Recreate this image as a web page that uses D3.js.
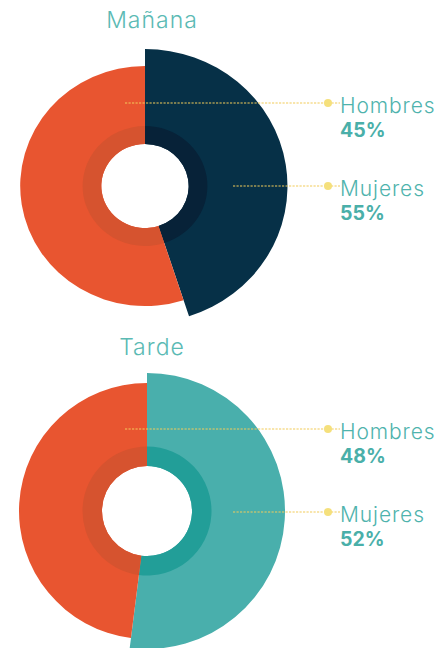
<!DOCTYPE html>
<html>
<head>
<meta charset="utf-8">
<script src="https://cdn.jsdelivr.net/npm/d3@7"></script>
<style>
  body { margin: 0; background: #fff; }
  text { font-family: Inter, "Open Sans", sans-serif; }
</style>
</head>
<body>
<div id="chart"></div>
<script>
// data
const titles = ['Mañana', 'Tarde'];
const categories = ['Hombres', 'Mujeres'];
const manana = [45, 55];
const tarde = [48, 52];
// which slice is drawn first (clockwise from 12 o'clock)
const mananaOrder = ['Hombres', 'Mujeres'];
const tardeOrder = ['Mujeres', 'Hombres'];

const width = 443, height = 648;

const svg = d3.select('#chart').append('svg')
    .attr('width', width)
    .attr('height', height);

const panels = [
  {title: titles[0], values: manana, order: mananaOrder,
   cx: 145, cy: 186, sx: 1.04, hole: 42, ring: 60,
   outer: {Hombres: 137, Mujeres: 120},
   colors: {Hombres: '#063047', Mujeres: '#e85530'},
   inner: {Hombres: '#072238', Mujeres: '#d6532f'}},
  {title: titles[1], values: tarde, order: tardeOrder,
   cx: 147, cy: 511, sx: 1, hole: 45, ring: 64.5,
   outer: {Hombres: 128, Mujeres: 138},
   colors: {Hombres: '#e85530', Mujeres: '#49afac'},
   inner: {Hombres: '#d6532f', Mujeres: '#229e98'}}
];

const labelY = [[103, 186], [429, 512]];
const lineStart = [125, 233];

panels.forEach((p, i) => {
  const data = p.order.map(k => ({key: k, value: p.values[categories.indexOf(k)]}));
  const pie = d3.pie().sort(null).value(d => d.value);
  const arcs = pie(data);

  const g = svg.append('g')
      .attr('transform', `translate(${p.cx},${p.cy}) scale(${p.sx},1)`);

  const outerArc = d3.arc()
      .innerRadius(p.hole)
      .outerRadius(d => p.outer[d.data.key]);
  const innerArc = d3.arc()
      .innerRadius(p.hole)
      .outerRadius(p.ring);

  g.selectAll('path.outer')
    .data(arcs)
    .join('path')
      .attr('class', 'outer')
      .attr('d', outerArc)
      .attr('fill', d => p.colors[d.data.key]);

  g.selectAll('path.inner')
    .data(arcs)
    .join('path')
      .attr('class', 'inner')
      .attr('d', innerArc)
      .attr('fill', d => p.inner[d.data.key]);

  // title
  svg.append('text')
      .attr('x', 152)
      .attr('y', p.cy - (i === 0 ? 158 : 156))
      .attr('text-anchor', 'middle')
      .attr('font-size', 23)
      .attr('font-weight', 300)
      .attr('letter-spacing', 1)
      .attr('fill', '#5bbab4')
      .text(p.title);

  // legend with leader lines
  categories.forEach((c, j) => {
    const y = labelY[i][j];
    svg.append('line')
        .attr('x1', lineStart[j]).attr('x2', 340)
        .attr('y1', y).attr('y2', y)
        .attr('stroke', '#f2cb5a')
        .attr('stroke-width', 1.2)
        .attr('stroke-dasharray', '2.2,1.3');
    svg.append('circle')
        .attr('cx', 328).attr('cy', y).attr('r', 4)
        .attr('fill', '#f5e07c');
    svg.append('text')
        .attr('x', 340).attr('y', y + 10)
        .attr('font-size', 21)
        .attr('font-weight', 300)
        .attr('letter-spacing', 0.9)
        .attr('fill', '#4fb3ad')
        .text(c);
    svg.append('text')
        .attr('x', 340).attr('y', y + 34)
        .attr('font-size', 19.5)
        .attr('font-weight', 700)
        .attr('fill', '#4aafa9')
        .text(p.values[j] + '%');
  });
});
</script>
</body>
</html>
